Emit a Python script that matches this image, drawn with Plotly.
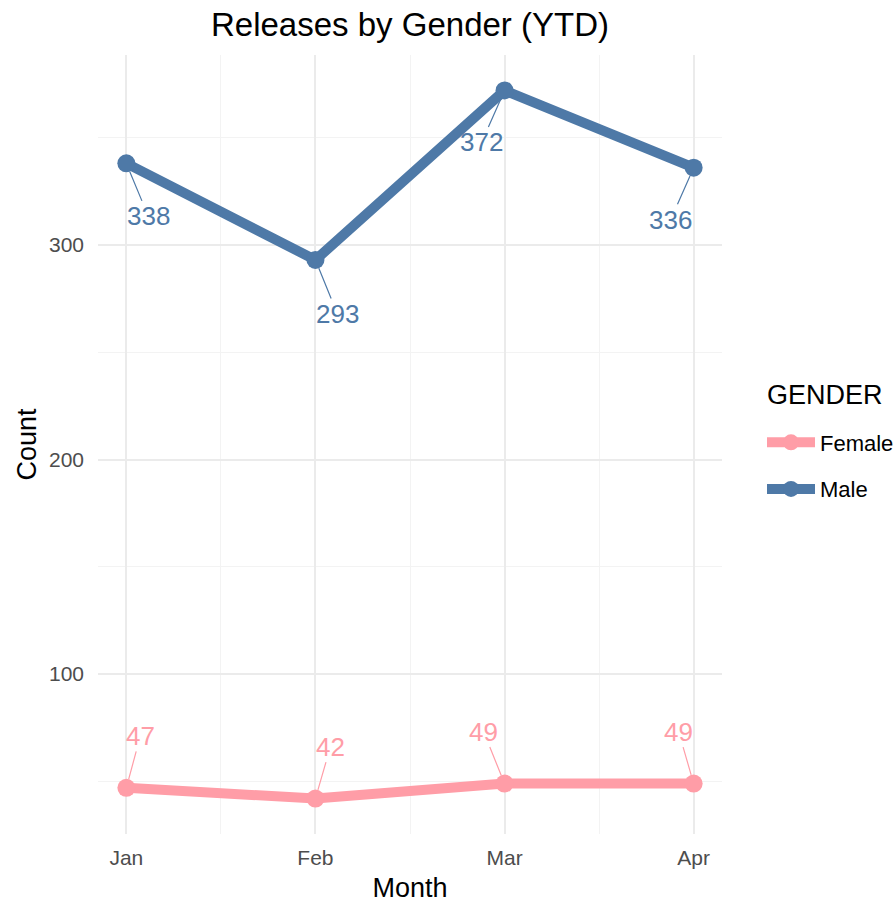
import plotly.graph_objects as go

# Monthly release counts by gender
months = ["Jan", "Feb", "Mar", "Apr"]
male = [338, 293, 372, 336]
female = [47, 42, 49, 49]

MALE_COLOR = "#4E79A7"
FEMALE_COLOR = "#FF9DA7"
FONT = "Liberation Sans, Arial, sans-serif"

x_pos = list(range(len(months)))

fig = go.Figure()

# Legend order: Female first, then Male
series = [("Female", female, FEMALE_COLOR), ("Male", male, MALE_COLOR)]
for name, values, color in series:
    fig.add_trace(go.Scatter(
        x=x_pos, y=values, name=name, legendgroup=name,
        mode="lines+markers",
        line=dict(color=color, width=10),
        marker=dict(color=color, size=18),
        hoverinfo="skip",
    ))

# Repelled-style labels (pixel offsets of the text from each point)
male_offsets = [(22, 53), (22, 54), (-23, 52), (-23, 52)]
female_offsets = [(14, -52), (15, -52), (-21, -52), (-15, -52)]

annotations = []
for values, color, offsets in [(male, MALE_COLOR, male_offsets),
                               (female, FEMALE_COLOR, female_offsets)]:
    for i, v in enumerate(values):
        ax, ay = offsets[i]
        annotations.append(dict(
            x=x_pos[i], y=v, xref="x", yref="y",
            text=str(v), showarrow=True, arrowhead=0,
            arrowwidth=1.2, arrowcolor=color, standoff=9,
            ax=ax, ay=ay, borderpad=0,
            font=dict(family=FONT, size=26, color=color),
        ))

# legend title drawn separately so the gap below it matches
annotations.append(dict(
    text="GENDER", xref="paper", yref="paper",
    x=(765 - 98) / 624, y=(834 - 395) / 779,
    xanchor="left", yanchor="middle", showarrow=False,
    font=dict(family=FONT, size=27, color="#000000"),
))

fig.update_layout(
    width=896, height=903,
    margin=dict(l=98, r=174, t=55, b=69, autoexpand=False),
    paper_bgcolor="white", plot_bgcolor="white",
    font=dict(family=FONT, color="#000000"),
    title=dict(text="Releases by Gender (YTD)", x=(98 + 722) / 2 / 896,
               xanchor="center", y=0.973, yanchor="middle",
               font=dict(size=33, color="#000000")),
    legend=dict(
        font=dict(size=22, color="#000000"),
        x=(762 - 98) / 624, xanchor="left",
        y=(834 - 466) / 779, yanchor="middle",
        tracegroupgap=15, bgcolor="rgba(0,0,0,0)",
        itemwidth=48,
    ),
    annotations=annotations,
    showlegend=True,
)

fig.update_xaxes(
    tickvals=x_pos, ticktext=months, range=[-0.15, 3.15],
    showgrid=True, gridcolor="#EBEBEB", gridwidth=1.5,
    minor=dict(tickvals=[0.5, 1.5, 2.5], showgrid=True, gridcolor="#F3F3F3", gridwidth=1),
    zeroline=False, showline=False, ticks="", automargin=False,
    ticklabelstandoff=9,
    tickfont=dict(size=21, color="#4D4D4D"),
    title=dict(text="Month", font=dict(size=27, color="#000000"), standoff=10),
)
fig.update_yaxes(
    tickvals=[100, 200, 300], range=[25.5, 388.5],
    showgrid=True, gridcolor="#EBEBEB", gridwidth=1.5,
    minor=dict(tickvals=[50, 150, 250, 350], showgrid=True, gridcolor="#F3F3F3", gridwidth=1),
    zeroline=False, showline=False, ticks="", automargin=False,
    ticklabelstandoff=13,
    tickfont=dict(size=21, color="#4D4D4D"),
    title=dict(text="Count", font=dict(size=27, color="#000000"), standoff=4),
)

# drop the default page margin so the figure sits at the window's corner
fig.write_html("out.html", config={"displayModeBar": False},
               post_script="document.body.style.margin='0';document.body.style.overflow='hidden';")
